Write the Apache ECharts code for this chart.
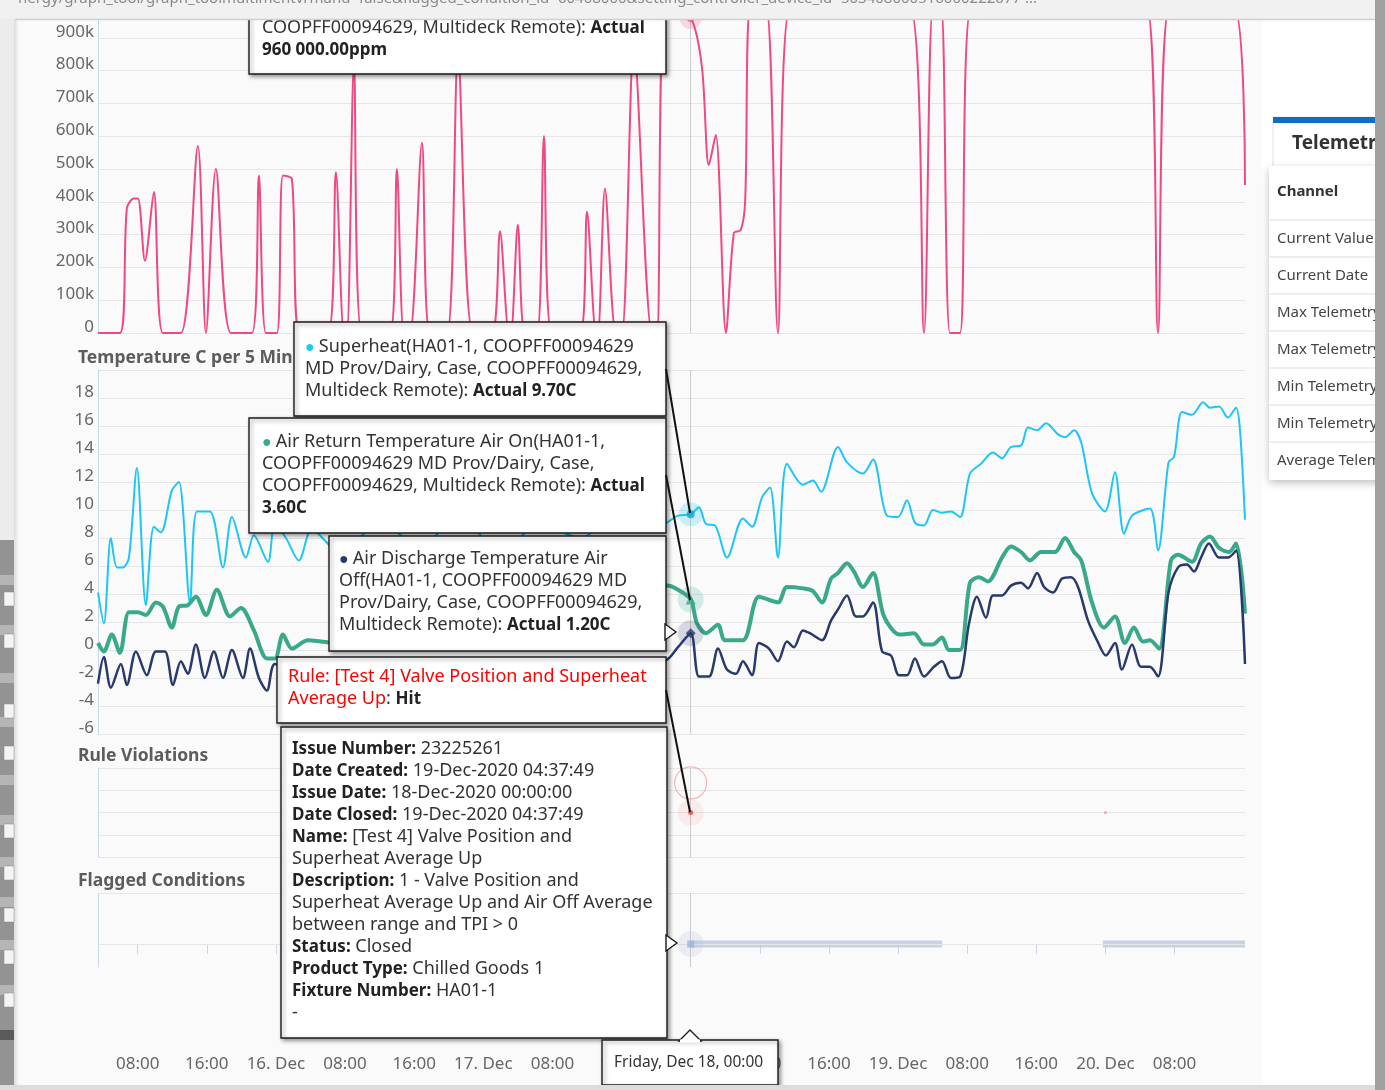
<!DOCTYPE html>
<html><head><meta charset="utf-8">
<script src="https://cdn.jsdelivr.net/npm/echarts@6/dist/echarts.min.js"></script>
<style>html,body{margin:0;padding:0;background:#fff;overflow:hidden}#c{width:1385px;height:1090px}</style>
</head><body><div id="c"></div>
<script>
// x values are hours since 15 Dec 2020 00:00
const xMin = 3.41, xMax = 136.15;
const xTickHours = [8,16,24,32,40,48,56,64,72,80,88,96,104,112,120,128];
const xTickLabels = ['08:00','16:00','16. Dec','08:00','16:00','17. Dec','08:00','16:00','18. Dec','08:00','16:00','19. Dec','08:00','16:00','20. Dec','08:00'];
const ppmTickLabels = {0:'0',100:'100k',200:'200k',300:'300k',400:'400k',500:'500k',600:'600k',700:'700k',800:'800k',900:'900k'};

// top pane, values in thousands of ppm
const ppmData = [[3.41,0],[5.94,0],[6.75,380],[7.56,410],[8.03,410],[8.84,220],[9.88,430],[10.92,0],[13.0,0],[14.97,570],[15.9,0],[17.05,500],[18.79,0],[21.22,0],[22.03,480],[22.84,0],[24.11,0],[24.81,480],[25.85,470],[26.78,0],[30.02,0],[30.94,490],[31.87,0],[32.22,0],[33.03,820],[33.95,0],[37.19,0],[38.0,500],[38.81,0],[39.51,0],[40.9,580],[41.82,0],[43.79,0],[45.07,850],[46.8,0],[49.0,0],[49.93,310],[50.97,0],[51.2,0],[52.0,330],[52.82,0],[54.21,0],[55.02,600],[55.94,0],[59.19,0],[60.0,370],[61.04,0],[61.27,0],[62.08,440],[63.35,0],[64.04,0],[65.43,880],[67.52,0],[68.1,0],[69.14,1000],[72,960],[73.3,811],[74.1,512],[74.9,604],[76.08,0],[77.0,305],[77.8,314],[78.3,400],[78.97,1000],[80.7,1000],[82.1,0],[83.6,1000],[97.26,1000],[99.0,0],[100.04,1000],[100.97,1000],[102.0,0],[103.17,0],[104.55,1000],[124.69,1000],[126.08,0],[127.47,1000],[134.76,1000],[136.15,451]];

const superheat = [[3.41,4.1],[4.09,1.9],[4.9,8.0],[5.6,5.9],[6.29,5.9],[6.99,6.6],[7.91,13.0],[8.95,3.2],[9.88,8.8],[10.69,8.4],[11.96,11.4],[12.77,12.0],[14.05,3.4],[14.86,9.9],[16.36,9.9],[17.87,5.9],[18.91,9.5],[20.53,6.6],[21.45,8.2],[23.07,6.3],[23.88,9.0],[25.16,8.0],[26.66,6.4],[28.17,8.6],[31.4,7.0],[36.0,9.0],[40.7,7.5],[45.3,9.5],[49.9,7.0],[54.6,9.0],[59.2,8.0],[63.8,10.0],[67.3,8.5],[69.26,9.1],[70.53,9.6],[72,9.7],[72.96,10.2],[73.77,9.0],[74.81,8.9],[76.2,6.6],[78.05,9.4],[79.1,8.8],[80.26,10.9],[81.18,11.6],[82.1,6.6],[83.14,13.3],[84.99,11.8],[86.15,12.1],[87.08,11.3],[89.05,14.5],[90.09,13.4],[91.94,12.6],[93.1,13.6],[94.71,9.6],[95.99,9.5],[97.03,10.7],[97.95,9.1],[99.0,8.9],[100.04,10.0],[101.08,9.8],[102.12,9.9],[103.17,9.5],[104.32,12.6],[105.6,13.3],[106.98,14.1],[108.03,13.7],[109.07,14.5],[110.23,14.6],[111.04,15.9],[112.09,15.7],[113.13,16.2],[114.52,15.4],[115.33,15.2],[116.37,15.7],[117.2,14.8],[118.44,11.2],[119.95,9.9],[121.1,12.7],[122.15,8.3],[123.08,9.6],[125.14,10.1],[126.08,7.1],[127.3,13.4],[127.94,13.8],[128.86,17.0],[130.02,16.8],[131.3,17.7],[132.1,17.3],[133.14,17.4],[134.18,16.6],[135.11,17.3],[135.57,15.7],[136.15,9.3]];

const airReturn = [[3.41,0.5],[4.09,-0.1],[5.01,1.1],[5.94,-0.2],[6.99,2.7],[8.03,2.7],[8.95,2.5],[10.11,3.4],[10.92,3.1],[11.96,1.6],[12.77,3.1],[13.8,3.2],[14.74,3.8],[15.9,2.5],[17.17,4.3],[18.68,2.4],[19.95,3.0],[21.45,1.4],[22.96,-0.6],[23.88,-0.6],[24.81,1.1],[25.85,0.1],[27.7,0.7],[29.2,0.6],[33.7,0.3],[40.7,0.8],[47.6,0.2],[54.6,0.6],[61.5,1.5],[66.1,4.0],[69.26,4.6],[70.53,4.3],[72,3.6],[72.73,1.9],[73.77,1.2],[75.16,1.8],[75.97,0.7],[78.05,0.7],[79.9,3.8],[82.1,3.4],[83.14,4.5],[84.99,4.4],[86.15,4.2],[87.19,3.4],[88.24,5.1],[89.05,5.5],[90.09,6.2],[90.9,5.6],[91.94,4.5],[93.1,5.5],[94.37,2.4],[96.22,1.1],[97.84,1.2],[99.0,0.4],[100.04,0.4],[101.08,0.9],[101.89,0.0],[103.17,0.0],[104.32,4.8],[105.36,5.2],[106.4,4.9],[108.03,6.6],[109.07,7.4],[110.23,7.0],[111.27,6.4],[112.55,7.0],[114.17,7.0],[115.33,8.0],[116.37,7.0],[117.2,6.4],[118.44,3.4],[119.83,1.6],[121.1,2.4],[122.26,0.5],[123.3,1.6],[124.34,0.6],[125.14,0.7],[126.2,0.1],[127.58,6.4],[128.4,6.8],[130.02,6.3],[131.06,7.6],[132.1,8.1],[133.14,7.3],[134.3,7.0],[135.11,7.6],[136.15,2.6]];

const airDischarge = [[3.41,-2.4],[4.09,-0.5],[4.9,-2.7],[6.06,-1.0],[6.75,-2.5],[7.8,-0.1],[9.07,-1.8],[10.11,-0.1],[11.15,-0.1],[12.08,-2.5],[13.0,-0.8],[13.8,-1.7],[14.74,0.4],[15.78,-2.0],[16.82,-0.1],[17.87,-2.0],[18.91,0.0],[20.18,-2.0],[21.0,0.1],[22.03,-2.0],[22.96,-2.9],[23.88,-1.0],[26.8,-2.0],[31.4,-1.2],[38.4,-2.2],[45.3,-1.5],[52.2,-2.5],[59.2,-1.8],[66.1,-1.5],[69.26,-0.7],[70.53,0.2],[72,1.2],[72.96,-1.9],[74.12,-1.9],[75.16,0.1],[76.2,-1.4],[77.24,-1.7],[78.05,-0.8],[79.1,-1.8],[79.9,0.5],[81.06,0.1],[82.1,-0.8],[83.14,0.6],[83.95,0.2],[84.99,1.4],[85.8,1.2],[87.19,0.7],[88.24,2.1],[89.05,2.9],[90.09,3.9],[91.13,2.4],[91.94,2.4],[93.1,3.4],[94.15,-0.1],[95.19,-0.4],[96.11,-1.8],[97.03,-1.8],[97.95,-0.6],[99.0,-1.9],[100.15,-1.2],[101.08,-0.8],[102.12,-2.0],[103.17,-1.9],[104.21,1.9],[105.13,3.8],[106.17,2.3],[106.98,3.9],[108.03,3.9],[109.07,4.6],[110.23,4.8],[111.04,4.4],[112.09,5.5],[112.9,4.5],[113.94,4.1],[114.98,5.1],[116.02,5.2],[116.83,4.5],[117.98,2.1],[119.02,0.7],[120.06,-0.4],[121.1,0.5],[121.9,-1.4],[123.08,0.4],[124.11,-1.2],[125.14,-1.2],[126.08,-1.9],[127.3,4.1],[128.4,5.9],[129.44,6.1],[130.25,5.6],[131.06,6.6],[131.98,7.6],[133.14,6.6],[134.18,6.6],[135.11,7.1],[136.15,-1.0]];

const ruleViolations = [[72,2],[120,2]];
const flaggedStart = [72, 119.7];
const flaggedEnd = [101.1, 136.15];
const hoverX = 72;

const FONT = '"Noto Sans", "Open Sans", sans-serif';
const C_PINK = '#f0497f', C_CYAN = '#1ec6f3', C_GREEN = '#3aa98a', C_NAVY = '#283a6c';
const AXIS_C = '#ccd6eb', GRID_C = '#e6e6e6', LBL_C = '#666';

const chart = echarts.init(document.getElementById('c'), null, {renderer:'canvas'});

const grids = [
  {left:98, right:140, top:5, height:328},
  {left:98, right:140, top:370, height:364},
  {left:98, right:140, top:768, height:89},
  {left:98, right:140, top:893, height:74}
];
const xAxes = grids.map((g,i)=>({
  type:'value', gridIndex:i, min:xMin, max:xMax, show: i===3,
  offset: i===3 ? 75 : 0,
  axisLine:{show:true, lineStyle:{color:AXIS_C, width:1}},
  axisTick:{show:true, length:10, customValues:xTickHours, lineStyle:{color:AXIS_C}},
  axisLabel:{show:true, customValues:xTickHours, margin:14, color:LBL_C, fontSize:17, fontFamily:FONT,
    formatter:v=>{const k=xTickHours.indexOf(Math.round(v)); return k>=0?xTickLabels[k]:'';}},
  splitLine:{show:false}
}));
const baseY = {
  axisLine:{show:true, lineStyle:{color:AXIS_C, width:1}},
  axisTick:{show:false},
  splitLine:{show:true, lineStyle:{color:GRID_C, width:1}},
};
const yAxes = [
  Object.assign({type:'value', gridIndex:0, min:0, max:1000, interval:100,
    axisLabel:{color:LBL_C, fontSize:17, fontFamily:FONT, margin:4, verticalAlign:'bottom', lineHeight:12,
      formatter:v=> (ppmTickLabels[v]!==undefined ? ppmTickLabels[v] : '')}}, baseY),
  Object.assign({type:'value', gridIndex:1, min:-6, max:20, interval:2,
    axisLabel:{color:LBL_C, fontSize:17, fontFamily:FONT, margin:4, verticalAlign:'bottom', lineHeight:12,
      formatter:v=> v===20 ? '' : String(v)}}, baseY),
  Object.assign({type:'value', gridIndex:2, min:0, max:4, interval:1, axisLabel:{show:false}}, baseY),
  {type:'value', gridIndex:3, min:-0.45, max:1, axisLabel:{show:false}, axisTick:{show:false},
    axisLine:{show:true, lineStyle:{color:AXIS_C, width:1}}, splitLine:{show:false}}
];

const crosshair = {silent:true, symbol:'none', animation:false, label:{show:false},
  lineStyle:{color:'#cccccc', width:1, type:'solid'}, data:[{xAxis:hoverX}]};

function lineSeries(data, color, width, gi, z, withCross){
  const s = {type:'line', data, xAxisIndex:gi, yAxisIndex:gi, smooth:0.3, showSymbol:false,
    lineStyle:{color, width}, itemStyle:{color}, z, animation:false, silent:true};
  if (withCross) s.markLine = crosshair;
  return s;
}
function dot(gi, val, color, size, symbol, z, extra){
  return Object.assign({type:'scatter', xAxisIndex:gi, yAxisIndex:gi, data:[[hoverX, val]], symbol:symbol||'circle',
    symbolSize:size, itemStyle:{color}, z:z||10, silent:true, animation:false}, extra||{});
}
const hoverVal = (arr)=> arr.find(p=>p[0]===hoverX)[1];

const series = [
  lineSeries(ppmData, C_PINK, 2, 0, 3, true),
  dot(0, hoverVal(ppmData), 'rgba(240,73,127,0.25)', 22),
  dot(0, hoverVal(ppmData), C_PINK, 8),
  lineSeries(superheat, C_CYAN, 2, 1, 3, true),
  lineSeries(airReturn, C_GREEN, 4, 1, 4),
  lineSeries(airDischarge, C_NAVY, 2.5, 1, 5),
  dot(1, hoverVal(superheat), 'rgba(30,198,243,0.28)', 24),
  dot(1, hoverVal(superheat), '#0aa5d6', 8),
  dot(1, hoverVal(airReturn), 'rgba(58,169,138,0.25)', 26),
  dot(1, hoverVal(airReturn), C_GREEN, 10, 'triangle'),
  dot(1, hoverVal(airDischarge), 'rgba(40,58,108,0.22)', 26),
  dot(1, hoverVal(airDischarge), C_NAVY, 10, 'diamond'),
  {type:'scatter', xAxisIndex:2, yAxisIndex:2, data:ruleViolations, symbolSize:3,
    itemStyle:{color:'rgba(240,110,110,0.7)'}, z:5, silent:true, animation:false, markLine:crosshair},
  dot(2, 2, 'rgba(240,100,100,0.12)', 26),
  dot(2, 2, 'rgba(230,60,60,0.9)', 5),
  dot(2, 3.33, 'rgba(0,0,0,0)', 32, 'circle', 6, {itemStyle:{color:'rgba(0,0,0,0)', borderColor:'rgba(240,110,110,0.6)', borderWidth:1.2}}),
  {type:'line', xAxisIndex:3, yAxisIndex:3, data:[], z:1, silent:true, animation:false,
    markLine:{silent:true, symbol:'none', animation:false, label:{show:false},
      lineStyle:{color:GRID_C, width:1, type:'solid'}, data:[{yAxis:0},{yAxis:1},{xAxis:hoverX, lineStyle:{color:'#cccccc'}}]}}
];
flaggedStart.forEach((s,i)=>{
  series.push({type:'line', xAxisIndex:3, yAxisIndex:3, data:[[s,0],[flaggedEnd[i],0]], showSymbol:false,
    lineStyle:{color:'rgba(180,198,222,0.75)', width:7, cap:'butt'}, z:3, silent:true, animation:false});
});
series.push(dot(3, 0, 'rgba(180,198,222,0.3)', 26));
series.push(dot(3, 0, 'rgba(150,175,210,0.9)', 7, 'rect'));

// ---------- overlay graphics (tooltips, page chrome) ----------
const rich = {
  n:{fontSize:18, fontFamily:FONT, fill:'#333', lineHeight:22},
  b:{fontSize:17, fontFamily:FONT, fill:'#222', fontWeight:'bold', lineHeight:22},
  r:{fontSize:18, fontFamily:FONT, fill:'#ff0000', lineHeight:22},
  cc:{fontSize:16, fontFamily:FONT, fill:C_CYAN, lineHeight:22},
  cg:{fontSize:16, fontFamily:FONT, fill:C_GREEN, lineHeight:22},
  cn:{fontSize:16, fontFamily:FONT, fill:C_NAVY, lineHeight:22}
};
function rt(lines){ return lines.map(l=>l.map(([s,t])=>'{'+s+'|'+t+'}').join('')).join('\n'); }
const g = [];
function box(x,y,w,h){
  g.push({type:'rect', shape:{x,y,width:w,height:h}, z:100,
    style:{fill:'#fff', stroke:'#1b1b1b', lineWidth:1.4, shadowBlur:4, shadowOffsetX:2, shadowOffsetY:2, shadowColor:'rgba(0,0,0,0.4)'}});
}
function txt(x,y,lines){
  g.push({type:'text', x, y:y+2, z:101, style:{text:rt(lines), rich, fontSize:18, fontFamily:FONT, fill:'#333', lineHeight:22, verticalAlign:'top', align:'left'}});
}
function conn(x1,y1,x2,y2){ g.push({type:'line', shape:{x1,y1,x2,y2}, z:102, style:{stroke:'#111', lineWidth:2}}); }
function arrowR(x,y){ g.push({type:'polygon', shape:{points:[[x-1,y-8],[x+10,y],[x-1,y+8]]}, z:102, style:{fill:'#fff', stroke:'#1b1b1b', lineWidth:1.4}}); }

// page chrome behind
g.push({type:'rect', shape:{x:1262,y:0,width:123,height:1090}, z:-10, style:{fill:'#ffffff'}});

// pink tooltip (partly scrolled out of view)
box(249,-60,417,134);
txt(262,15,[[['n','COOPFF00094629, Multideck Remote): '],['b','Actual']],[['b','960 000.00ppm']]]);
// superheat
box(294,322,372,94);
txt(305,334,[[['cc','● '],['n','Superheat(HA01-1, COOPFF00094629']],[['n','MD Prov/Dairy, Case, COOPFF00094629,']],[['n','Multideck Remote): '],['b','Actual 9.70C']]]);
conn(666,369,690,513);
// air return
box(249,418,417,115);
txt(262,429,[[['cg','● '],['n','Air Return Temperature Air On(HA01-1,']],[['n','COOPFF00094629 MD Prov/Dairy, Case,']],[['n','COOPFF00094629, Multideck Remote): '],['b','Actual']],[['b','3.60C']]]);
conn(666,475,690,600);
// air discharge
box(329,536,337,115);
txt(339,546,[[['cn','● '],['n','Air Discharge Temperature Air']],[['n','Off(HA01-1, COOPFF00094629 MD']],[['n','Prov/Dairy, Case, COOPFF00094629,']],[['n','Multideck Remote): '],['b','Actual 1.20C']]]);
arrowR(666,632);
// rule
box(277,657,389,66);
txt(288,664,[[['r','Rule: [Test 4] Valve Position and Superheat']],[['r','Average Up'],['n',': '],['b','Hit']]]);
conn(666,690,690,812);
// issue
box(281,727,386,311);
txt(292,736,[
  [['b','Issue Number:'],['n',' 23225261']],
  [['b','Date Created:'],['n',' 19-Dec-2020 04:37:49']],
  [['b','Issue Date:'],['n',' 18-Dec-2020 00:00:00']],
  [['b','Date Closed:'],['n',' 19-Dec-2020 04:37:49']],
  [['b','Name:'],['n',' [Test 4] Valve Position and']],
  [['n','Superheat Average Up']],
  [['b','Description:'],['n',' 1 - Valve Position and']],
  [['n','Superheat Average Up and Air Off Average']],
  [['n','between range and TPI > 0']],
  [['b','Status:'],['n',' Closed']],
  [['b','Product Type:'],['n',' Chilled Goods 1']],
  [['b','Fixture Number:'],['n',' HA01-1']],
  [['n','-']]
]);
arrowR(667,943);
// date tooltip
box(602,1040,176,45);
g.push({type:'polygon', shape:{points:[[679,1041],[690,1030],[701,1041]]}, z:102, style:{fill:'#fff', stroke:'#1b1b1b', lineWidth:1.4}});
g.push({type:'rect', shape:{x:680,y:1039.5,width:20,height:3}, z:103, style:{fill:'#fff'}});
g.push({type:'text', x:614, y:1063, z:104, style:{text:'Friday, Dec 18, 00:00', fontSize:15.5, fontFamily:FONT, fill:'#333', verticalAlign:'middle'}});

// pane titles
[['Temperature C per 5 Min',357],['Rule Violations',755],['Flagged Conditions',880]].forEach(([t,y])=>{
  g.push({type:'text', x:78, y:y+1, z:50, style:{text:t, fontSize:17.5, fontWeight:'bold', fontFamily:FONT, fill:'#5c5c5c', verticalAlign:'middle'}});
});

// right table card
g.push({type:'rect', shape:{x:1273,y:117,width:110,height:50}, z:110, style:{fill:'#fff', stroke:'#e2e2e2', lineWidth:1}});
g.push({type:'rect', shape:{x:1273,y:117,width:110,height:6}, z:111, style:{fill:'#0d6ec4'}});
g.push({type:'text', x:1292, y:144, z:112, style:{text:'Telemetry', fontSize:19, fontWeight:'bold', fontFamily:FONT, fill:'#333', verticalAlign:'middle'}});
g.push({type:'rect', shape:{x:1269,y:166,width:116,height:314}, z:110, style:{fill:'#fff', shadowBlur:8, shadowOffsetY:3, shadowColor:'rgba(0,0,0,0.25)'}});
g.push({type:'text', x:1277, y:192, z:112, style:{text:'Channel', fontSize:15, fontWeight:'bold', fontFamily:FONT, fill:'#333', verticalAlign:'middle'}});
const tableRows = ['Current Value','Current Date','Max Telemetry','Max Telemetry','Min Telemetry','Min Telemetry','Average Telemetry'];
tableRows.forEach((t,i)=>{
  const y0 = 220 + i*37;
  g.push({type:'line', shape:{x1:1269,y1:y0,x2:1385,y2:y0}, z:111, style:{stroke:'#dedede', lineWidth:1.2}});
  g.push({type:'text', x:1277, y:y0+19, z:112, style:{text:t, fontSize:15, fontFamily:FONT, fill:'#444', verticalAlign:'middle'}});
});
g.push({type:'rect', shape:{x:1375,y:0,width:10,height:1090}, z:200, style:{fill:'#a0a0a0'}});

// top url bar
g.push({type:'rect', shape:{x:0,y:0,width:1385,height:19}, z:190, style:{fill:'#f1f1f1'}});
g.push({type:'line', shape:{x1:15,y1:19.5,x2:1375,y2:19.5}, z:191, style:{stroke:'#cfcfcf', lineWidth:1.5}});
g.push({type:'text', x:18, y:-1, z:192, style:{text:'nergy/graph_tool/graph_toolmultimentvrmand=false&flagged_condition_id=60408000&setting_controller_device_id=503408000516000222677 ...', fontSize:15, fontFamily:FONT, fill:'#8a8a8a', verticalAlign:'middle'}});

// left strip (window behind)
g.push({type:'rect', shape:{x:0,y:0,width:14,height:540}, z:180, style:{fill:'#ececec'}});
g.push({type:'rect', shape:{x:0,y:540,width:14,height:545}, z:180, style:{fill:'#939393'}});
[575,625,673,717,775,815,857,897,940,985].forEach(y=>g.push({type:'rect', shape:{x:0,y:y,width:14,height:10}, z:181, style:{fill:'#b5b5b5'}}));
[592,634,704,746,824,866,908,950,993].forEach(y=>g.push({type:'rect', shape:{x:4,y:y,width:10,height:14}, z:182, style:{fill:'#f4f4f4', stroke:'#888', lineWidth:0.5}}));
g.push({type:'rect', shape:{x:0,y:1030,width:14,height:10}, z:181, style:{fill:'#5a5a5a'}});
g.push({type:'rect', shape:{x:14,y:0,width:5,height:1090}, z:179, style:{fill:{type:'linear',x:0,y:0,x2:1,y2:0,colorStops:[{offset:0,color:'rgba(0,0,0,0.12)'},{offset:1,color:'rgba(0,0,0,0)'}]}}});
g.push({type:'rect', shape:{x:0,y:1085,width:1385,height:5}, z:185, style:{fill:'#dcdcdc'}});

chart.setOption({
  backgroundColor:'#fafafa',
  animation:false,
  grid: grids,
  xAxis: xAxes,
  yAxis: yAxes,
  series,
  graphic: g
});
</script></body></html>
